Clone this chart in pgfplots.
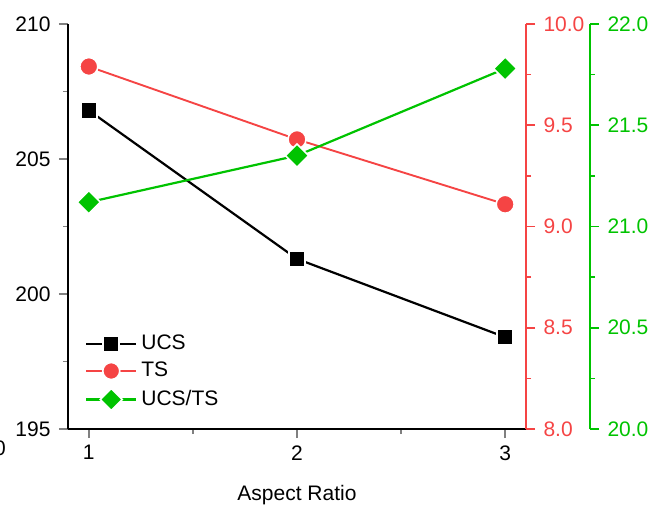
\documentclass[border=0pt]{standalone}
\usepackage{fontspec}
\setmainfont{Liberation Sans}
\usepackage{pgfplots}
\pgfplotsset{compat=1.18}
\definecolor{tsred}{RGB}{245,68,68}
\definecolor{ratiogreen}{RGB}{0,195,0}
\begin{document}
\begin{tikzpicture}
\pgfplotsset{
  every axis/.append style={
    scale only axis, width=458pt, height=405pt, xmin=0.9, xmax=3.1,
    tick align=outside, major tick length=9pt, minor tick length=5pt,
    /pgf/number format/assume math mode=true,
    tick label style={font=\fontsize{21}{25}\selectfont},
    label style={font=\fontsize{21}{25}\selectfont},
    axis line style={line width=1.6pt}, every tick/.append style={line width=1.5pt},
  },
  linelegend/.style={legend image code/.code={\draw[mark repeat=2,mark phase=2,##1] plot coordinates {(0pt,0pt)(25pt,0pt)(50pt,0pt)};}},
}
% axis 1: UCS
\begin{axis}[
  axis x line*=bottom, axis y line*=left,
  ymin=195, ymax=210, ytick={195,200,205,210}, minor y tick num=1,
  xtick={1,2,3}, minor x tick num=1,
  yticklabel style={xshift=-5pt},
  xticklabel style={yshift=-4pt},
  xlabel={Aspect Ratio},
  xlabel style={yshift=-18pt},
  linelegend,
  legend cell align=left,
  legend style={draw=none, fill=none, at={(0.037,0.045)}, anchor=south west, font=\fontsize{21}{25}\selectfont, row sep=8pt, inner sep=0pt,
    nodes={inner xsep=4pt, inner ysep=0pt, text height=15pt, text depth=4pt}},
]
\addplot[black, line width=2.2pt, mark=square*, mark size=8pt, mark options={draw=white, line width=1.6pt}] coordinates {(1,206.8)(2,201.3)(3,198.4)};
\addlegendentry{UCS}
\addlegendimage{tsred, line width=1.9pt, mark=*, mark size=8.5pt, mark options={draw=white, line width=1.6pt}}
\addlegendentry{TS}
\addlegendimage{ratiogreen, line width=2.2pt, mark=square*, mark size=7.8pt, mark options={rotate=45, draw=white, line width=1.6pt}}
\addlegendentry{UCS/TS}
\end{axis}
% axis 2: TS
\begin{axis}[
  axis x line=none, axis y line*=right,
  ymin=8, ymax=10, ytick={8,8.5,9,9.5,10}, minor y tick num=1,
  y axis line style={draw=tsred}, every tick/.append style={tsred},
  yticklabel style={xshift=5pt, text=tsred, /pgf/number format/.cd, fixed, fixed zerofill, precision=1},
]
\addplot[tsred, line width=1.9pt, mark=*, mark size=9pt, mark options={draw=white, line width=1.6pt}] coordinates {(1,9.79)(2,9.43)(3,9.11)};
\end{axis}
% axis 3: UCS/TS data
\begin{axis}[hide axis, ymin=20, ymax=22]
\addplot[ratiogreen, line width=2.2pt, mark=square*, mark size=8.2pt, mark options={rotate=45, draw=white, line width=1.6pt}] coordinates {(1,21.12)(2,21.35)(3,21.78)};
\end{axis}
% axis 4: green scale
\begin{axis}[
  at={(64pt,0pt)},
  axis x line=none, axis y line*=right,
  ymin=20, ymax=22, ytick={20,20.5,21,21.5,22}, minor y tick num=1,
  y axis line style={draw=ratiogreen}, every tick/.append style={ratiogreen},
  yticklabel style={xshift=5pt, text=ratiogreen, /pgf/number format/.cd, fixed, fixed zerofill, precision=1},
]
\end{axis}
\node[anchor=east, font=\fontsize{21}{25}\selectfont, inner sep=0pt] at (-62pt,-19pt) {0};
\pgfresetboundingbox
\useasboundingbox (-68pt,-80pt) rectangle (592pt,429pt);
\end{tikzpicture}
\end{document}
